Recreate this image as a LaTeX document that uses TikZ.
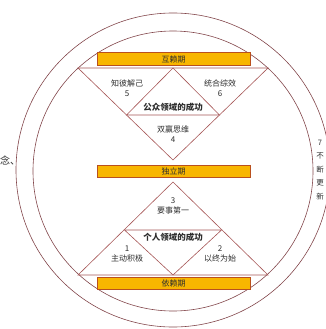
\documentclass[tikz,border=0pt]{standalone}
\usepackage{fontspec}
\usepackage{xcolor}
\usepackage{tikz}
\usetikzlibrary{positioning}
\newfontfamily\cjk{Noto Sans CJK SC}
\definecolor{barfill}{RGB}{248,182,0}
\definecolor{barline}{RGB}{185,80,30}
\definecolor{lineclr}{RGB}{165,85,85}
\definecolor{ringclr}{RGB}{130,70,75}
\definecolor{txtclr}{RGB}{45,45,45}

\begin{document}
\begin{tikzpicture}[
        x=1pt, y=-1pt,
        every node/.style={font=\cjk\fontsize{8}{10}\selectfont,text=txtclr,inner sep=0pt},
        stagebar/.style={draw=barline,fill=barfill,line width=0.8pt,minimum width=153pt,minimum height=12.5pt},
        victory/.style={font=\cjk\bfseries\fontsize{8.5}{10}\selectfont},
        habit/.style={align=center},
        edge/.style={draw=lineclr,line width=0.6pt},
        ring/.style={draw=ringclr,line width=0.6pt}
        ]
        \useasboundingbox (0,0) rectangle (325,329);
        % the two rings
        \draw[ring] (173,170) circle[radius=157pt];
        \draw[ring] (173,171) circle[radius=140pt];
        % public victory
        \coordinate (utl) at (78,68);
        \coordinate (utr) at (268,68);
        \coordinate (uapex) at (173,160);
        \coordinate (utop) at (173,68);
        \coordinate (ubl) at (126.5,115);
        \coordinate (ubr) at (219.5,115);
        \draw[edge] (utl) -- (utr) -- (uapex) -- cycle;
        \draw[edge] (ubl) -- (utop) -- (ubr) -- cycle;
        % private victory
        \coordinate (lbl) at (78,275);
        \coordinate (lbr) at (268,275);
        \coordinate (lapex) at (173,182);
        \coordinate (lbot) at (173,275);
        \coordinate (ltl) at (124.5,230);
        \coordinate (ltr) at (221.5,230);
        \draw[edge] (lbl) -- (lbr) -- (lapex) -- cycle;
        \draw[edge] (ltl) -- (lbot) -- (ltr) -- cycle;
        % stages
        \node[stagebar] (inter) at (173.5,59) {互赖期};
        \node[stagebar] (indep) at (173.5,171.5) {独立期};
        \node[stagebar] (dep) at (173.5,283.5) {依赖期};
        % habits
        \node[habit] (h5) at (127,88) {知彼解己\\5};
        \node[habit] (h6) at (220,88) {统合综效\\6};
        \node[victory] (public) at (173,107) {公众领域的成功};
        \node[habit] (h4) at (173,134) {双赢思维\\4};
        \node[habit] (h3) at (173,206) {3\\要事第一};
        \node[victory] (private) at (173,237) {个人领域的成功};
        \node[habit] (h1) at (127,254) {1\\主动积极};
        \node[habit] (h2) at (220,254) {2\\以终为始};
        \node[habit,font=\cjk\fontsize{7.5}{13.5}\selectfont] (h7) at (320,170) {7\\不\\断\\更\\新};
        \node[anchor=west,font=\cjk\fontsize{10}{12}\selectfont] (cut) at (0,160) {念、};
\end{tikzpicture}
\end{document}
